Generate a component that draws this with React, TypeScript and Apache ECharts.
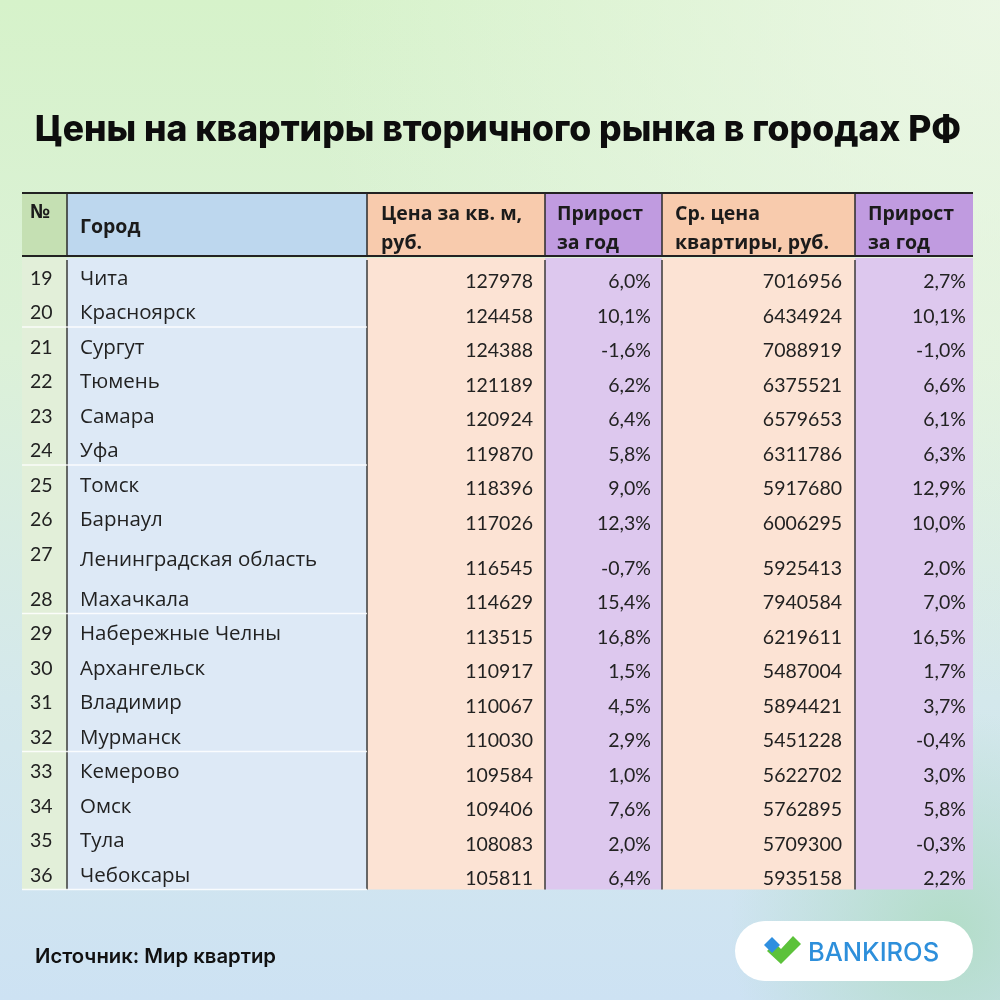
import React, { useEffect, useRef } from "react";
import * as echarts from "echarts";

// ---------- DATA ----------
const ranks = [19, 20, 21, 22, 23, 24, 25, 26, 27, 28, 29, 30, 31, 32, 33, 34, 35, 36];
const cities = [
  "Чита", "Красноярск", "Сургут", "Тюмень", "Самара", "Уфа", "Томск", "Барнаул",
  "Ленинградская область", "Махачкала", "Набережные Челны", "Архангельск", "Владимир",
  "Мурманск", "Кемерово", "Омск", "Тула", "Чебоксары",
];
const pricePerSqm = [127978, 124458, 124388, 121189, 120924, 119870, 118396, 117026, 116545, 114629, 113515, 110917, 110067, 110030, 109584, 109406, 108083, 105811];
const sqmGrowth = [6.0, 10.1, -1.6, 6.2, 6.4, 5.8, 9.0, 12.3, -0.7, 15.4, 16.8, 1.5, 4.5, 2.9, 1.0, 7.6, 2.0, 6.4];
const avgPrice = [7016956, 6434924, 7088919, 6375521, 6579653, 6311786, 5917680, 6006295, 5925413, 7940584, 6219611, 5487004, 5894421, 5451228, 5622702, 5762895, 5709300, 5935158];
const avgGrowth = [2.7, 10.1, -1.0, 6.6, 6.1, 6.3, 12.9, 10.0, 2.0, 7.0, 16.5, 1.7, 3.7, -0.4, 3.0, 5.8, -0.3, 2.2];
const headers = ["№", "Город", "Цена за кв. м,\nруб.", "Прирост\nза год", "Ср. цена\nквартиры, руб.", "Прирост\nза год"];
const titleText = "Цены на квартиры вторичного рынка в городах РФ";
const sourceText = "Источник: Мир квартир";
const brandText = "BANKIROS";

// ---------- LAYOUT / STYLE ----------
const colEdges = [22, 67, 367, 545, 662, 855, 973];
const headerTop = 193;
const headerBottom = 256;
const bodyTop = 258;
const rowHeights = ranks.map((r) => (r === 27 ? 45 : 34.5));
const rowTops: number[] = [];
{
  let t = bodyTop;
  for (const h of rowHeights) { rowTops.push(t); t += h; }
}
const bodyBottom = rowTops[rowTops.length - 1] + rowHeights[rowHeights.length - 1];
const headerColors = ["#c5e0b3", "#bdd7ee", "#f8cbad", "#c09be0", "#f8cbad", "#c09be0"];
const bodyColors = ["#e2efd9", "#dde9f6", "#fce3d4", "#ddc8ee", "#fce3d4", "#ddc8ee"];
const headerTextX = [30, 80, 381, 557, 675, 868];
const NUM_FONT = "Lato, 'Noto Sans', sans-serif";
const TXT_FONT = "'Open Sans', 'Noto Sans', sans-serif";
const TITLE_FONT = "Inter, 'Noto Sans', sans-serif";
const valueRight = [533, 651, 842, 966];

const fmtPct = (v: number) => v.toFixed(1).replace(".", ",") + "%";

const columnSeries = {
  type: "custom",
  coordinateSystem: "cartesian2d",
  z: 5,
  silent: true,
  data: headers.map((_, i) => [i]),
  renderItem: (params: any, api: any) => {
    const c = api.value(0) as number;
    const [x0, yH0] = api.coord([colEdges[c], headerTop]);
    const [x1, yH1] = api.coord([colEdges[c + 1], headerBottom]);
    const [, yB0] = api.coord([0, bodyTop]);
    const [, yB1] = api.coord([0, bodyBottom]);
    const children: any[] = [
      { type: "rect", shape: { x: x0, y: yH0, width: x1 - x0, height: yH1 - yH0 }, style: { fill: headerColors[c] } },
      { type: "rect", shape: { x: x0, y: yB0, width: x1 - x0, height: yB1 - yB0 }, style: { fill: bodyColors[c] } },
    ];
    const lines = headers[c].split("\n");
    const [tx] = api.coord([headerTextX[c], 0]);
    let ty: number;
    if (c === 0) ty = api.coord([0, 210])[1];
    else if (lines.length === 1) ty = api.coord([0, 225])[1];
    else ty = api.coord([0, 227])[1];
    children.push({
      type: "text",
      style: {
        text: headers[c], x: tx, y: ty, align: "left", verticalAlign: "middle",
        fontFamily: TXT_FONT, fontWeight: "bold", fontSize: 19.5, lineHeight: 29, fill: "#1b1b1b",
      },
    });
    if (c > 0) {
      children.push({ type: "line", shape: { x1: x0, y1: yH0, x2: x0, y2: yH1 }, style: { stroke: "#2a2a2a", lineWidth: 1.5 } });
      children.push({ type: "line", shape: { x1: x0, y1: yB0 + 2, x2: x0, y2: yB1 }, style: { stroke: "#3a3a3a", lineWidth: 1.5 } });
    }
    children.push({ type: "line", shape: { x1: x0, y1: yH0, x2: x1, y2: yH0 }, style: { stroke: "#222", lineWidth: 2 } });
    children.push({ type: "line", shape: { x1: x0, y1: yH1, x2: x1, y2: yH1 }, style: { stroke: "#222", lineWidth: 2 } });
    return { type: "group", children };
  },
};

const rowSeries = {
  type: "custom",
  coordinateSystem: "cartesian2d",
  z: 6,
  silent: true,
  data: ranks.map((r, i) => [i, r, pricePerSqm[i], sqmGrowth[i], avgPrice[i], avgGrowth[i]]),
  renderItem: (params: any, api: any) => {
    const i = api.value(0) as number;
    const top = rowTops[i];
    const bottom = top + rowHeights[i];
    const mid = (top + bottom) / 2;
    const txt = (text: string, x: number, y: number, align: string, font: string, size: number) => {
      const [px, py] = api.coord([x, y]);
      return {
        type: "text",
        style: { text, x: px, y: py, align, verticalAlign: "middle", fontFamily: font, fontSize: size, fill: "#222" },
      };
    };
    const children: any[] = [
      txt(String(api.value(1)), 30, top + 19, "left", NUM_FONT, 19.5),
      txt(cities[i], 80, mid + 1.5, "left", TXT_FONT, 20.5),
      txt(String(api.value(2)), valueRight[0], bottom - 12, "right", NUM_FONT, 19.5),
      txt(fmtPct(api.value(3) as number), valueRight[1], bottom - 12, "right", NUM_FONT, 19.5),
      txt(String(api.value(4)), valueRight[2], bottom - 12, "right", NUM_FONT, 19.5),
      txt(fmtPct(api.value(5) as number), valueRight[3], bottom - 12, "right", NUM_FONT, 19.5),
    ];
    if (i % 4 === 1) {
      const [lx0, ly] = api.coord([colEdges[0], bottom]);
      const [lx1] = api.coord([colEdges[2], bottom]);
      children.push({ type: "line", shape: { x1: lx0, y1: ly, x2: lx1, y2: ly }, style: { stroke: "rgba(255,255,255,0.85)", lineWidth: 1.5 } });
    }
    return { type: "group", children };
  },
};

const option: any = {
  animation: false,
  grid: { left: 0, right: 0, top: 0, bottom: 0 },
  xAxis: { type: "value", min: 0, max: 1000, show: false },
  yAxis: { type: "value", min: 0, max: 1000, inverse: true, show: false },
  graphic: [
    {
      type: "rect", z: -10, shape: { x: 0, y: 0, width: 1000, height: 1000 },
      style: {
        fill: new echarts.graphic.LinearGradient(0, 0, 0, 1, [
          { offset: 0, color: "#d6f2ca" },
          { offset: 0.35, color: "#dcf1d8" },
          { offset: 0.7, color: "#d4e8ec" },
          { offset: 1, color: "#cde2f3" },
        ]),
      },
    },
    {
      type: "rect", z: -9, shape: { x: 0, y: 0, width: 1000, height: 1000 },
      style: {
        fill: new echarts.graphic.RadialGradient(1, 0, 0.7, [
          { offset: 0, color: "rgba(240,248,235,0.8)" },
          { offset: 1, color: "rgba(240,248,235,0)" },
        ]),
      },
    },
    {
      type: "rect", z: -8, shape: { x: 0, y: 0, width: 1000, height: 1000 },
      style: {
        fill: new echarts.graphic.RadialGradient(0.95, 0.93, 0.22, [
          { offset: 0, color: "rgba(176,220,196,0.9)" },
          { offset: 1, color: "rgba(176,220,196,0)" },
        ]),
      },
    },
    {
      type: "text", z: 20, style: {
        text: titleText, x: 498, y: 128, align: "center", verticalAlign: "middle",
        fontFamily: TITLE_FONT, fontWeight: 800, fontSize: 35.5, fill: "#0d0d0d",
      },
    },
    {
      type: "text", z: 20, style: {
        text: sourceText, x: 35, y: 955, align: "left", verticalAlign: "middle",
        fontFamily: TITLE_FONT, fontWeight: 600, fontSize: 20.3, fill: "#111",
      },
    },
    { type: "rect", z: 20, shape: { x: 735, y: 921, width: 238, height: 60, r: 30 }, style: { fill: "#ffffff" } },
    {
      type: "polygon", z: 21,
      shape: { points: [[767, 951], [775, 943], [781, 949], [793, 936], [801, 944], [781, 964]] },
      style: { fill: "#5cc23a" },
    },
    {
      type: "polygon", z: 22,
      shape: { points: [[764, 945], [772, 937], [780, 945], [772, 953]] },
      style: { fill: "#2f8fe0" },
    },
    {
      type: "text", z: 21, style: {
        text: brandText, x: 808, y: 951, align: "left", verticalAlign: "middle",
        fontFamily: TITLE_FONT, fontWeight: 500, fontSize: 25.5, fill: "#2d8fdb",
      },
    },
  ],
  series: [columnSeries, rowSeries],
};

export default function App() {
  const ref = useRef<HTMLDivElement>(null);
  useEffect(() => {
    const chart = echarts.init(ref.current!, null, { renderer: "svg" });
    chart.setOption(option);
    return () => chart.dispose();
  }, []);
  return <div ref={ref} style={{ position: "fixed", left: 0, top: 0, width: 1000, height: 1000 }} />;
}
